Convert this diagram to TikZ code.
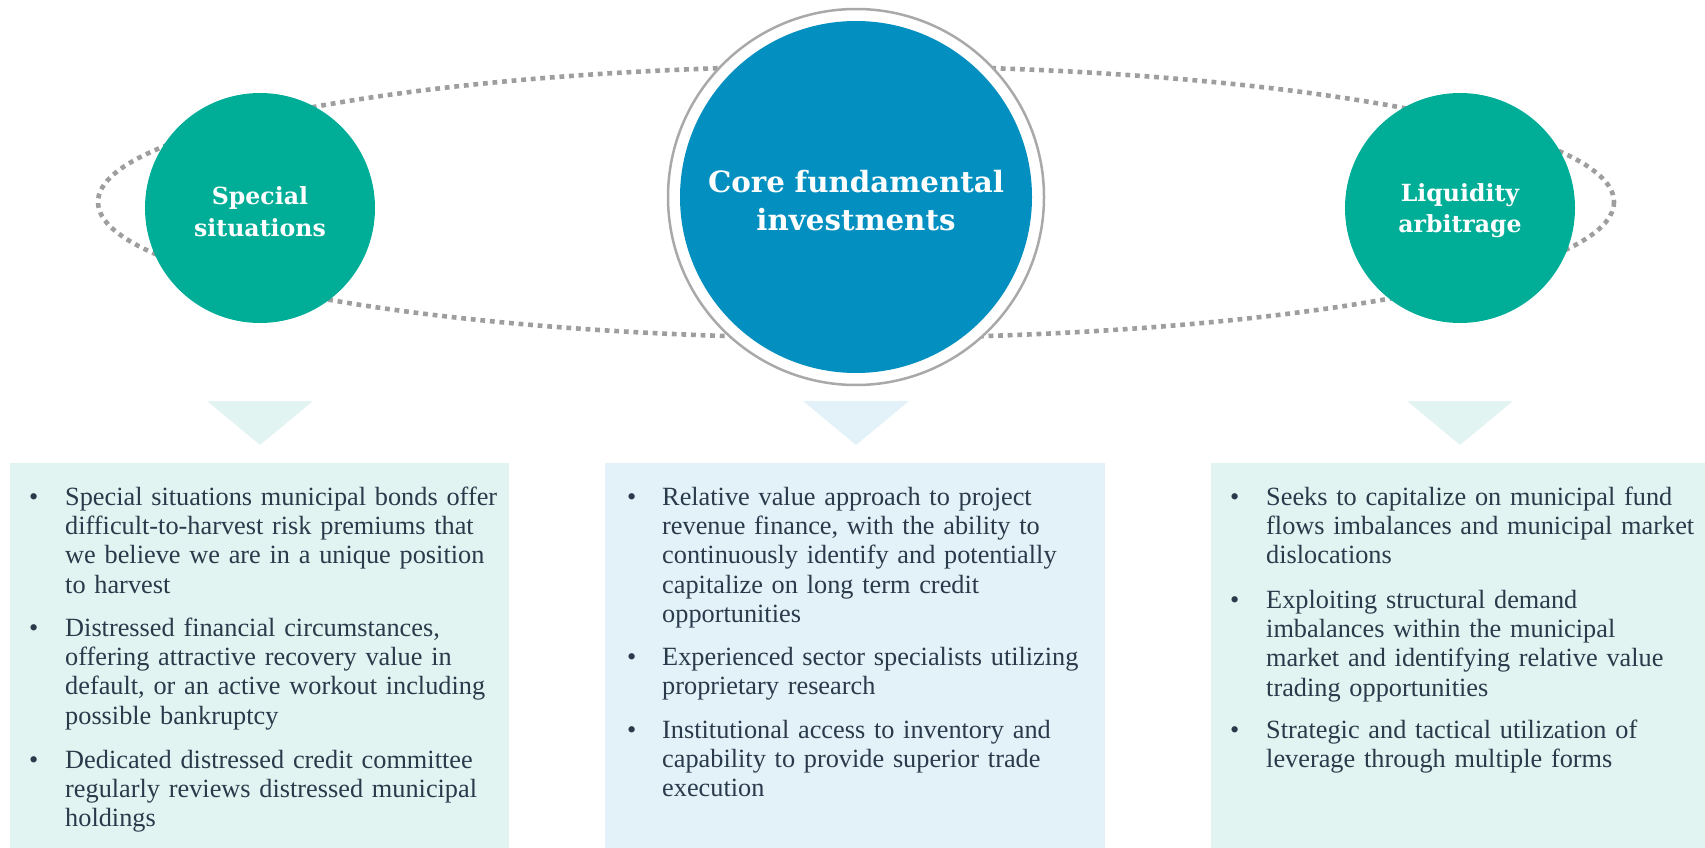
\documentclass[tikz,border=0pt]{standalone}
\usepackage{fontspec}
\setmainfont{Liberation Serif}
\newfontfamily\titlefont{DejaVu Serif}
\usetikzlibrary{shapes.geometric}
\definecolor{teal1}{HTML}{00AE97}
\definecolor{blue1}{HTML}{0390C0}
\definecolor{tealbg}{HTML}{E2F4F1}
\definecolor{bluebg}{HTML}{E3F1F8}
\definecolor{dotgray}{HTML}{9E9E9E}
\definecolor{ringgray}{HTML}{A9A9A9}
\definecolor{txt}{HTML}{2B3A4B}
\begin{document}
\begin{tikzpicture}[x=1pt,y=-1pt,
 dotline/.style={draw=dotgray,line width=4.6pt,dash pattern=on 4.8pt off 4.8pt},
 sidecirc/.style={circle,fill=teal1,minimum size=230pt,inner sep=0pt},
 titletext/.style={text=white,align=center,inner sep=0pt,anchor=north},
 bodytext/.style={text=txt,font=\fontsize{26.3}{29.3}\selectfont,align=left,text width=470pt,inner sep=0pt,anchor=north west},
 bulletmark/.style={text=txt,font=\fontsize{26.3}{29.3}\selectfont,inner sep=0pt,anchor=base west},
 panel/.style={inner sep=0pt,anchor=north west,draw=none}
]
\useasboundingbox (0,0) rectangle (1705,848);

% dotted loop
\draw[dotline] (856,202) ellipse [x radius=758, y radius=136];

% circles
\node[circle,fill=white,draw=ringgray,line width=2.5pt,minimum size=376pt,inner sep=0pt] (ring) at (856,197) {};
\node[circle,fill=blue1,minimum size=352pt,inner sep=0pt] (core) at (856,197) {};
\node[sidecirc] (special) at (260,208) {};
\node[sidecirc] (liquid) at (1460,208) {};

\node[titletext,text width=220pt,font=\titlefont\bfseries\fontsize{23.6}{32}\selectfont] (specialT) at (260,181.6) {\strut Special\\situations};
\node[titletext,text width=340pt,font=\titlefont\bfseries\fontsize{29.3}{38}\selectfont] (coreT) at (856,165.4) {\strut Core fundamental\\investments};
\node[titletext,text width=220pt,font=\titlefont\bfseries\fontsize{23.6}{31}\selectfont] (liquidT) at (1460,179.3) {\strut Liquidity\\arbitrage};

% pointer triangles
\fill[tealbg] (207,401) -- (313,401) -- (260,445) -- cycle;
\fill[bluebg] (803,401) -- (909,401) -- (856,445) -- cycle;
\fill[tealbg] (1407,401) -- (1513,401) -- (1460,445) -- cycle;

% panels
\node[panel,fill=tealbg,minimum width=499pt,minimum height=385pt] (boxL) at (10,463) {};
\node[panel,fill=bluebg,minimum width=500pt,minimum height=385pt] (boxC) at (605,463) {};
\node[panel,fill=tealbg,minimum width=494pt,minimum height=385pt] (boxR) at (1211,463) {};

% left panel text
\node[bulletmark] (bL1) at (29,505) {•};
\node[bodytext] (tL1) at (65,484.49) {\strut Special situations municipal bonds offer\\difficult-to-harvest risk premiums that\\we believe we are in a unique position\\to harvest};
\node[bulletmark] (bL2) at (29,636) {•};
\node[bodytext] (tL2) at (65,615.49) {\strut Distressed financial circumstances,\\offering attractive recovery value in\\default, or an active workout including\\possible bankruptcy};
\node[bulletmark] (bL3) at (29,768) {•};
\node[bodytext] (tL3) at (65,747.49) {\strut Dedicated distressed credit committee\\regularly reviews distressed municipal\\holdings};

% center panel text
\node[bulletmark] (bC1) at (627,505) {•};
\node[bodytext] (tC1) at (662,484.49) {\strut Relative value approach to project\\revenue finance, with the ability to\\continuously identify and potentially\\capitalize on long term credit\\opportunities};
\node[bulletmark] (bC2) at (627,665) {•};
\node[bodytext] (tC2) at (662,644.49) {\strut Experienced sector specialists utilizing\\proprietary research};
\node[bulletmark] (bC3) at (627,738) {•};
\node[bodytext] (tC3) at (662,717.49) {\strut Institutional access to inventory and\\capability to provide superior trade\\execution};

% right panel text
\node[bulletmark] (bR1) at (1230,505) {•};
\node[bodytext] (tR1) at (1266,484.49) {\strut Seeks to capitalize on municipal fund\\flows imbalances and municipal market\\dislocations};
\node[bulletmark] (bR2) at (1230,608) {•};
\node[bodytext] (tR2) at (1266,587.49) {\strut Exploiting structural demand\\imbalances within the municipal\\market and identifying relative value\\trading opportunities};
\node[bulletmark] (bR3) at (1230,738) {•};
\node[bodytext] (tR3) at (1266,717.49) {\strut Strategic and tactical utilization of\\leverage through multiple forms};
\end{tikzpicture}
\end{document}
